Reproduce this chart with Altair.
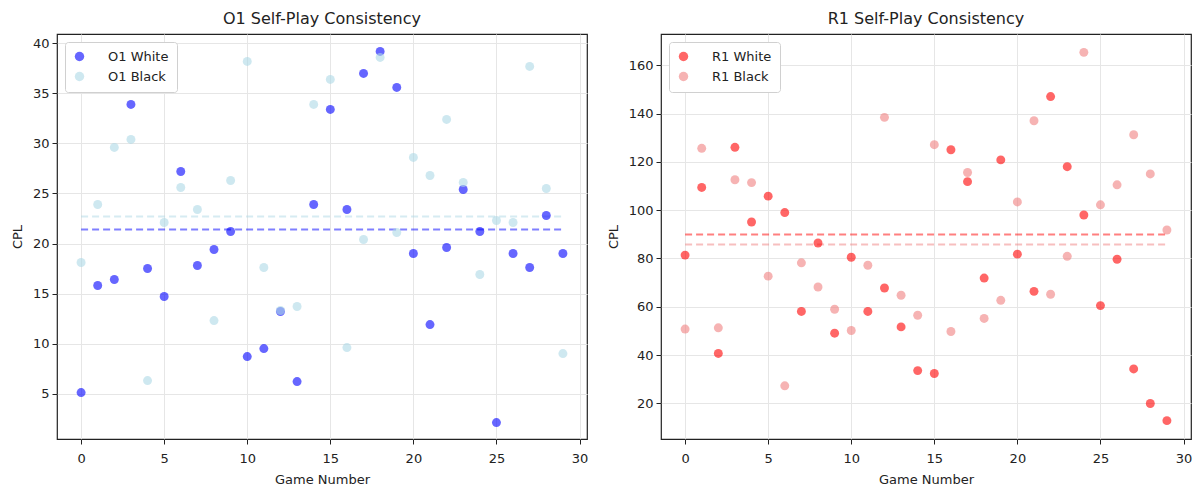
import altair as alt
import pandas as pd

games = list(range(30))

o1_white = [5.1, 15.8, 16.4, 33.9, 17.5, 14.7, 27.2, 17.8, 19.4, 21.2,
            8.7, 9.5, 13.2, 6.2, 23.9, 33.4, 23.4, 37.0, 39.2, 35.6,
            19.0, 11.9, 19.6, 25.4, 21.2, 2.1, 19.0, 17.6, 22.8, 19.0]
o1_black = [18.1, 23.9, 29.6, 30.4, 6.3, 22.1, 25.6, 23.4, 12.3, 26.3,
            38.2, 17.6, 13.3, 13.7, 33.9, 36.4, 9.6, 20.4, 38.6, 21.1,
            28.6, 26.8, 32.4, 26.1, 16.9, 22.3, 22.1, 37.7, 25.5, 9.0]
r1_white = [81.4, 109.4, 40.7, 126.0, 95.1, 105.8, 99.0, 58.1, 86.4, 49.1,
            80.5, 58.1, 67.8, 51.7, 33.6, 32.4, 125.0, 111.8, 71.9, 120.8,
            81.8, 66.4, 147.0, 118.0, 98.0, 60.5, 79.7, 34.3, 20.0, 12.9]
r1_black = [50.8, 125.6, 51.3, 112.6, 111.4, 72.7, 27.3, 78.2, 68.2, 59.0,
            50.2, 77.2, 138.4, 64.8, 56.5, 127.1, 49.8, 115.6, 55.2, 62.7,
            103.4, 137.0, 65.2, 80.9, 165.3, 102.2, 110.5, 131.2, 115.0, 91.8]

# dashed reference levels as drawn
o1_levels = [21.4, 22.7]   # white, black
r1_levels = [89.9, 85.8]   # white, black

FONT = "DejaVu Sans"
W, H = 530, 405


def panel(name, white, black, levels, colors, ydomain, yticks, title):
    lw, lb = f"{name} White", f"{name} Black"
    df = pd.DataFrame({
        "game": games * 2,
        "cpl": white + black,
        "series": [lw] * 30 + [lb] * 30,
    })
    xsc = alt.Scale(domain=[-1.45, 30.45], nice=False, zero=False)
    ysc = alt.Scale(domain=ydomain, nice=False, zero=False)
    color = alt.Color(
        "series:N", scale=alt.Scale(domain=[lw, lb], range=colors), sort=[lw, lb],
        legend=alt.Legend(
            title=None, orient="top-left", offset=8,
            fillColor="white", strokeColor="#d0d0d0", cornerRadius=3,
            padding=8, labelFont=FONT, labelFontSize=13, labelColor="#222",
            symbolType="circle", symbolSize=90, symbolOpacity=0.6,
            symbolStrokeWidth=0, rowPadding=6, labelOffset=22,
        ),
    )
    x = alt.X("game:Q", title="Game Number", scale=xsc,
              axis=alt.Axis(values=[0, 5, 10, 15, 20, 25, 30], format="d"))
    y = alt.Y("cpl:Q", title="CPL", scale=ysc,
              axis=alt.Axis(values=yticks, format="d"))
    pts = alt.Chart(df).mark_circle(size=80, opacity=0.6).encode(
        x=x, y=y, color=color)
    lev = pd.DataFrame({"value": levels, "x0": [games[0]] * 2, "x1": [games[-1]] * 2})
    rule_layers = []
    for i, c in enumerate(colors):
        rule_layers.append(
            alt.Chart(lev.iloc[[i]]).mark_rule(
                strokeDash=[7, 4], strokeWidth=2, opacity=0.5, color=c
            ).encode(x=alt.X("x0:Q", scale=xsc), x2="x1:Q", y=alt.Y("value:Q", scale=ysc))
        )
    return alt.layer(*rule_layers, pts).properties(
        width=W, height=H,
        title=alt.Title(title, font=FONT, fontSize=16, fontWeight="normal", color="#222", offset=7),
    )


left = panel("O1", o1_white, o1_black, o1_levels, ["blue", "lightblue"],
             [0.46, 40.94], [5, 10, 15, 20, 25, 30, 35, 40], "O1 Self-Play Consistency")
right = panel("R1", r1_white, r1_black, r1_levels, ["red", "lightcoral"],
              [5.3, 172.9], [20, 40, 60, 80, 100, 120, 140, 160], "R1 Self-Play Consistency")

chart = alt.hconcat(left, right, spacing=17).resolve_scale(color="independent").properties(
    padding={"left": 10, "top": 10, "right": 0, "bottom": 0},
    background="white",
).configure_view(stroke="#222", strokeWidth=1.2).configure_axis(
    labelFont=FONT, titleFont=FONT, labelFontSize=13, titleFontSize=13,
    titleFontWeight="normal", labelColor="#222", titleColor="#222",
    grid=True, gridColor="#e6e6e6", gridWidth=1,
    domain=False, tickColor="#222", tickSize=5,
).configure_axisY(titlePadding=8, labelPadding=3).configure_axisX(titlePadding=8, labelPadding=8)

chart.save("out.html", embed_options={"renderer": "svg", "actions": False})
